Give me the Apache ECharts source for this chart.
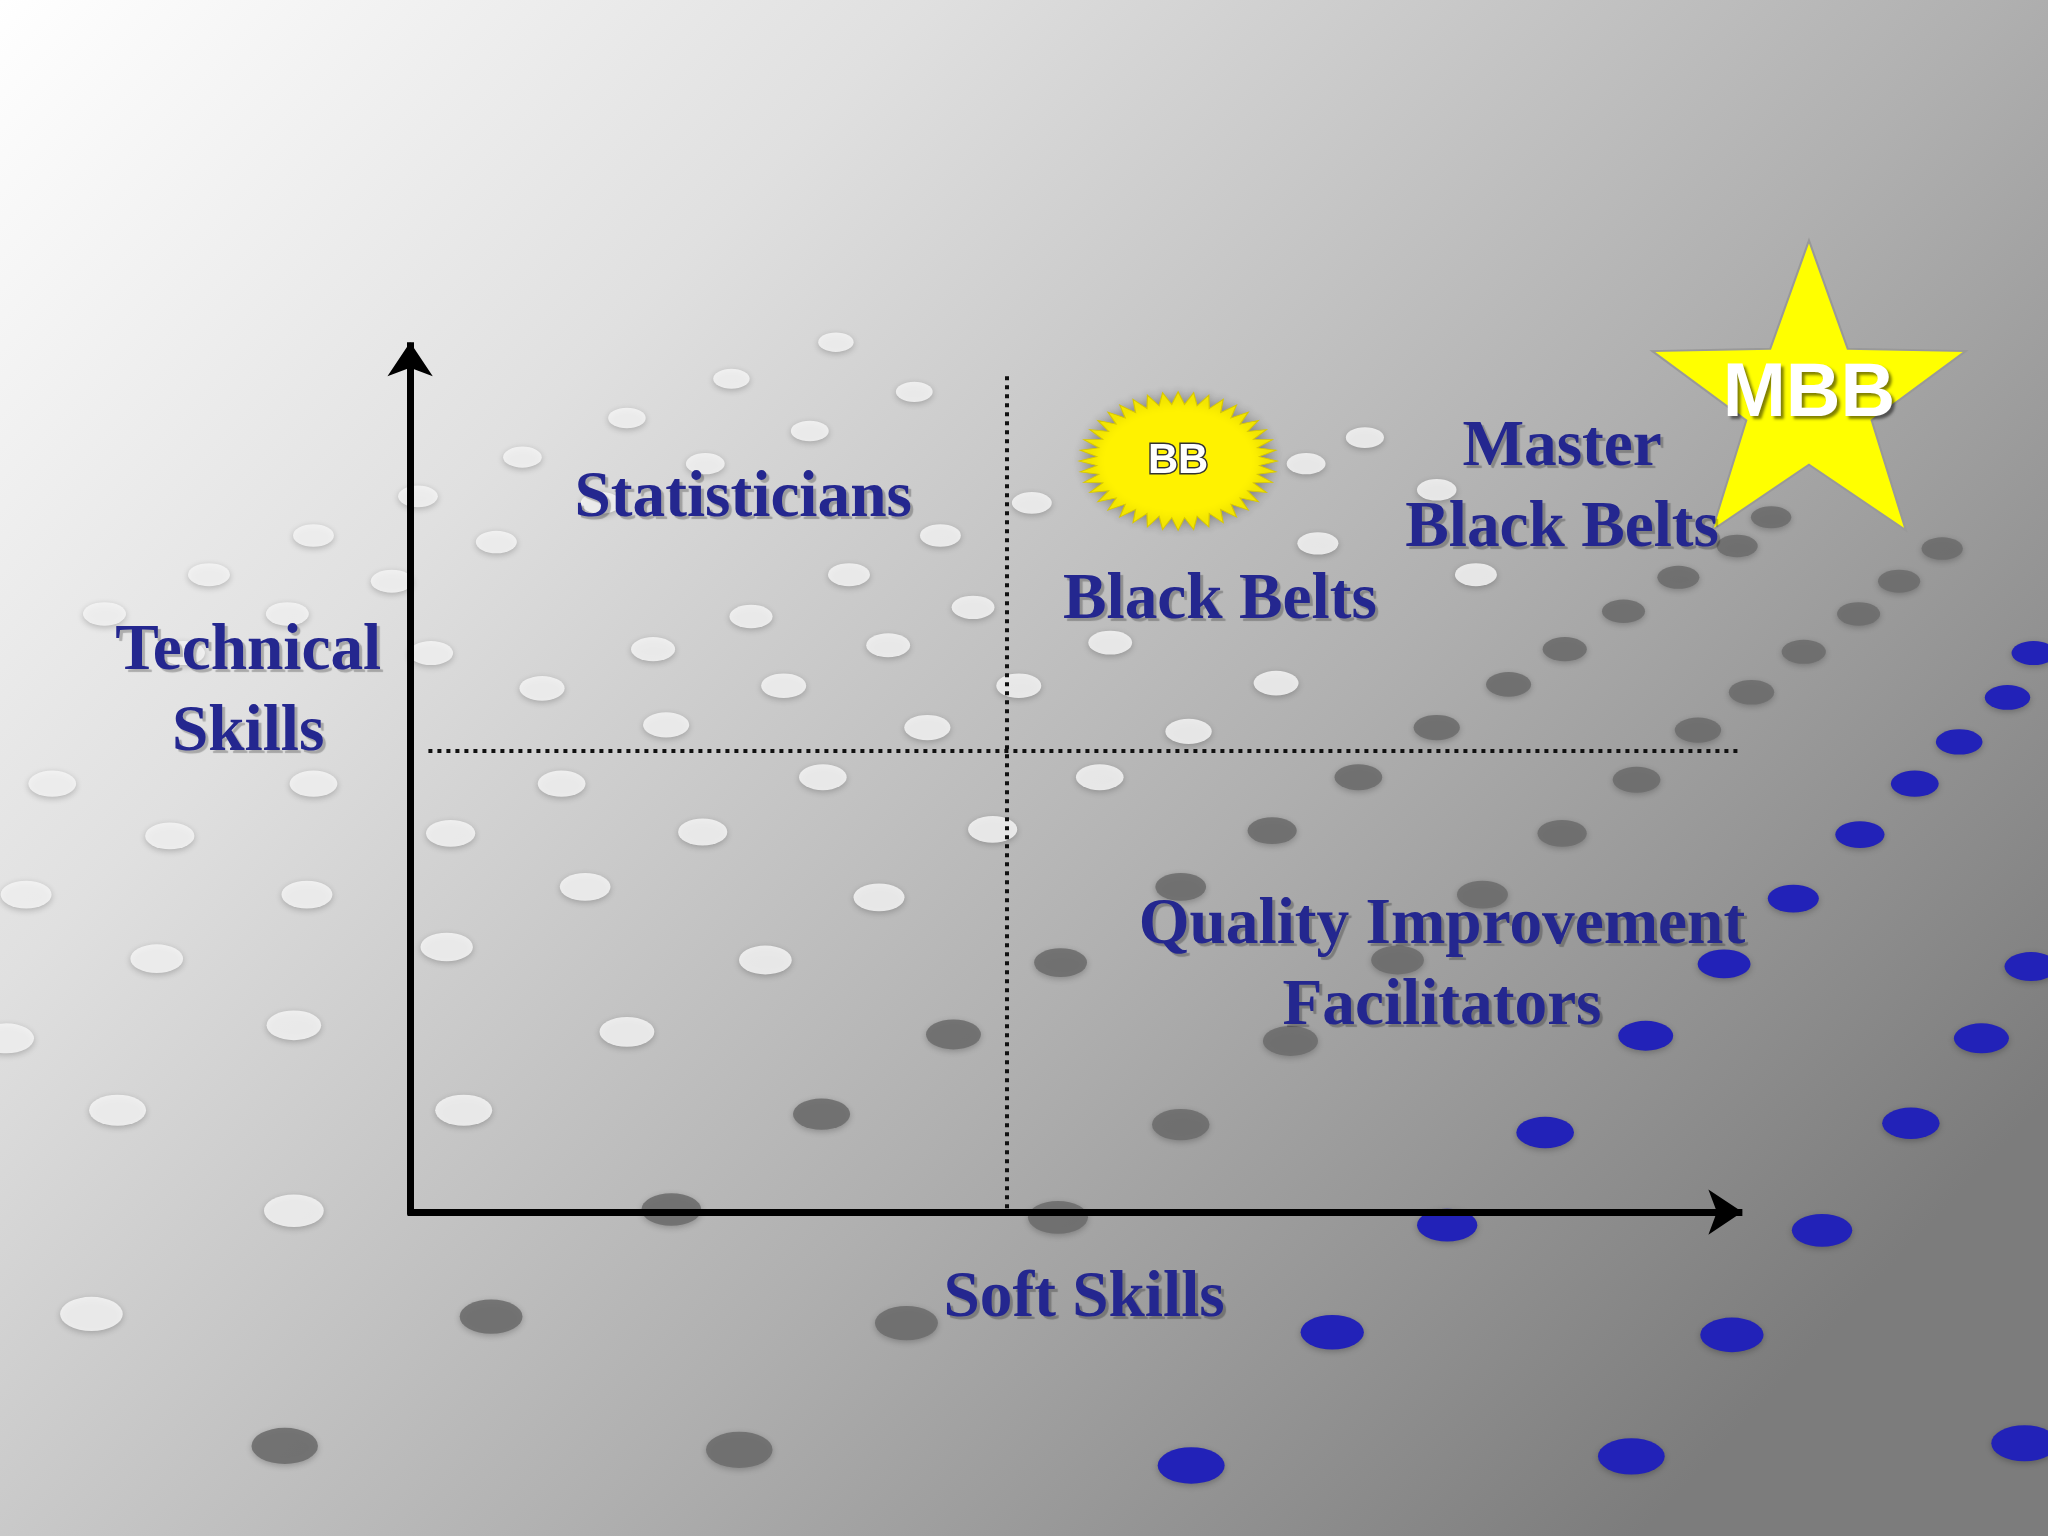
<!DOCTYPE html>
<html>
<head>
<meta charset="utf-8">
<style>html,body{margin:0;padding:0;}#main{width:2048px;height:1536px;}</style>
<script src="https://cdn.jsdelivr.net/npm/echarts@6/dist/echarts.min.js"></script>
</head>
<body>
<div id="main"></div>
<script>
// layout in 1568x1176 picture units, scaled by axes
var S = 2048 / 1568;

var axisLines = [[[314, 930], [314, 262]], [[312, 928], [1334, 928]]];
var dottedLines = [[[771, 288], [771, 928]], [[328, 575], [1334, 575]]];

var quadrantLabels = [
  [569, 382, 'Statisticians'],
  [934, 460, 'Black Belts'],
  [1196, 374, 'Master\nBlack Belts'],
  [1104, 740, 'Quality Improvement\nFacilitators'],
  [190, 530, 'Technical\nSkills'],
  [830, 995, 'Soft Skills']
];

var blueDots = [[1557,500],[1537,534],[1500,568],[1466,600],[1424,639],[1373,688],[1320,738],[1260,793],[1183,867],[1108,938],[1020,1020],[912,1122],[1555,740],[1517,795],[1463,860],[1395,942],[1326,1022],[1249,1115],[1550,1105]];
var grayDots = [[1356,396],[1487,420],[1454,445],[1423,470],[1381,499],[1341,530],[1300,559],[1253,597],[1196,638],[1135,685],[1070,735],[988,797],[904,861],[810,932],[694,1013],[566,1110],[1330,418],[1285,442],[1243,468],[1198,497],[1155,524],[1100,557],[1040,595],[974,636],[904,679],[812,737],[730,792],[629,853],[514,926],[376,1008],[218,1107]];
var lightDots = [[1045,335],[1009,416],[977,523],[910,560],[842,595],[760,635],[673,687],[586,735],[480,790],[355,850],[225,927],[70,1006],[850,492],[780,525],[710,557],[630,595],[538,637],[448,679],[342,725],[235,685],[120,734],[90,850],[225,785],[20,685],[5,795],[345,638],[430,600],[510,555],[600,525],[680,494],[745,465],[330,500],[240,600],[40,600],[130,640],[415,527],[500,497],[575,472],[650,440],[720,410],[790,385],[1130,440],[1100,375],[1000,355],[640,262],[560,290],[480,320],[400,350],[320,380],[240,410],[160,440],[80,470],[700,300],[620,330],[540,355],[460,385],[380,415],[300,445],[220,470],[140,500]];

function sun(n, ro, ri) {
  var p = [];
  for (var i = 0; i < n * 2; i++) {
    var a = Math.PI * i / n, r = i % 2 ? ri : ro;
    p.push((i ? 'L' : 'M') + (100 + r * Math.cos(a)).toFixed(2) + ' ' + (100 + r * Math.sin(a)).toFixed(2));
  }
  return 'path://' + p.join(' ') + ' Z';
}
function star() {
  var p = [];
  for (var i = 0; i < 10; i++) {
    var a = -Math.PI / 2 + Math.PI * i / 5, r = i % 2 ? 40 : 100;
    p.push((i ? 'L' : 'M') + (100 + r * Math.cos(a)).toFixed(2) + ' ' + (100 + r * Math.sin(a)).toFixed(2));
  }
  return 'path://' + p.join(' ') + ' Z';
}

function dotSize(v) {
  var k = 0.45 + v[1] / 1176 * 0.75;
  return [44 * k * S, 24 * k * S];
}
function dots(data, color, opacity) {
  return {
    type: 'scatter', data: data, symbol: 'circle', symbolSize: dotSize, silent: true, z: 1,
    itemStyle: { color: color, opacity: opacity, shadowBlur: 6, shadowColor: 'rgba(0,0,0,0.25)', shadowOffsetY: 2 }
  };
}

var textStyle = {
  show: true, position: 'inside', color: '#24278f', fontFamily: 'Liberation Serif',
  fontWeight: 'bold', fontSize: 50 * S, lineHeight: 62 * S, align: 'center',
  textShadowColor: 'rgba(0,0,0,0.25)', textShadowOffsetX: 3, textShadowOffsetY: 3, textShadowBlur: 1
};

var chart = echarts.init(document.getElementById('main'));
chart.setOption({
  backgroundColor: new echarts.graphic.LinearGradient(0, 0, 0.8, 1, [
    { offset: 0, color: '#ffffff' }, { offset: 0.3, color: '#e0e0e0' },
    { offset: 0.65, color: '#b0b0b0' }, { offset: 1, color: '#7c7c7c' }
  ]),
  animation: false,
  grid: { left: 0, right: 0, top: 0, bottom: 0 },
  xAxis: { type: 'value', min: 0, max: 1568, show: false },
  yAxis: { type: 'value', min: 0, max: 1176, inverse: true, show: false },
  series: [
    dots(lightDots, '#f6f6f6', 0.85),
    dots(grayDots, '#6e6e6e', 0.9),
    dots(blueDots, '#2222b8', 1),
    {
      type: 'lines', coordinateSystem: 'cartesian2d', z: 5,
      data: dottedLines.map(function (c) { return { coords: c }; }),
      symbol: 'none', lineStyle: { color: '#111', width: 4, type: [4, 5], opacity: 1 }
    },
    {
      type: 'lines', coordinateSystem: 'cartesian2d', z: 6,
      data: axisLines.map(function (c) { return { coords: c }; }),
      symbol: ['none', 'arrow'], symbolSize: [0, 34], lineStyle: { color: '#000', width: 7, opacity: 1 }
    },
    {
      type: 'scatter', z: 7, data: [[902, 353]], symbol: sun(40, 100, 82), symbolKeepAspect: false,
      symbolSize: [152 * S, 106 * S],
      itemStyle: { color: '#fff200', borderColor: '#d8c800', borderWidth: 1, opacity: 1, shadowBlur: 8, shadowColor: 'rgba(0,0,0,0.3)' },
      label: { show: true, formatter: 'BB', color: '#ffffff', fontFamily: 'Liberation Sans', fontWeight: 'bold',
        fontSize: 32 * S, textBorderColor: '#333', textBorderWidth: 3 }
    },
    {
      type: 'scatter', z: 7, data: [[1385, 295]], symbol: star(), symbolKeepAspect: false,
      symbolSize: [240 * S, 222 * S],
      itemStyle: { color: '#ffff00', borderColor: '#999', borderWidth: 2, opacity: 1 },
      label: { show: true, formatter: 'MBB', offset: [0, 10], color: '#ffffff', fontFamily: 'Liberation Sans', fontWeight: 'bold',
        fontSize: 58 * S, textShadowColor: 'rgba(0,0,0,0.5)', textShadowOffsetX: 3, textShadowOffsetY: 3, textShadowBlur: 3 }
    },
    {
      type: 'scatter', z: 8, symbolSize: 0, silent: true, itemStyle: { opacity: 1 },
      data: quadrantLabels.map(function (d) { return { value: [d[0], d[1]], name: d[2] }; }),
      label: Object.assign({ formatter: function (p) { return p.name; } }, textStyle)
    }
  ]
});
</script>
</body>
</html>
